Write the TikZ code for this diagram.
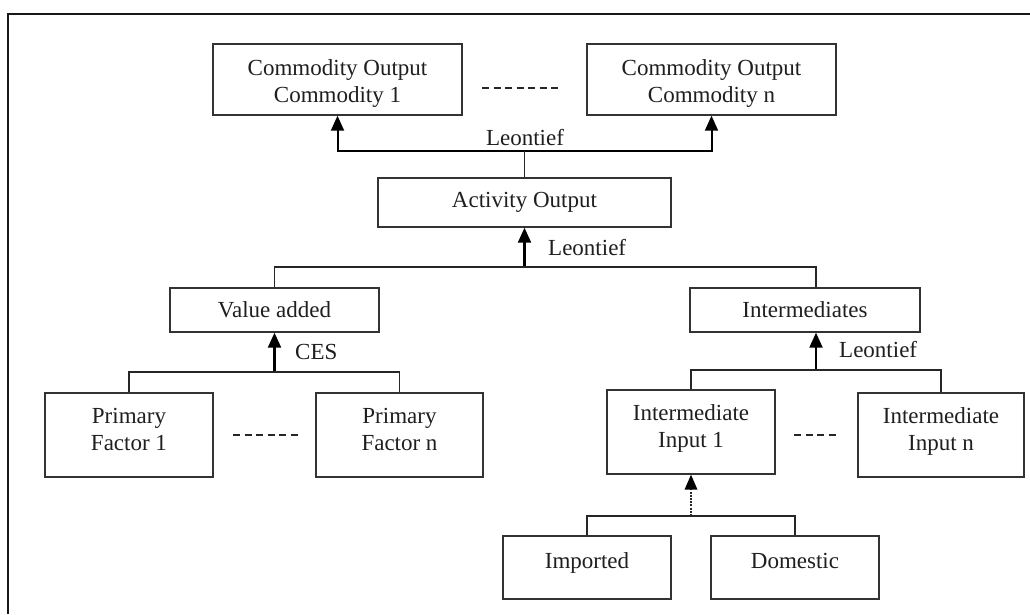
\documentclass[tikz,border=0pt]{standalone}
\usepackage{fontspec}
\setmainfont{Liberation Serif}
\usetikzlibrary{arrows.meta,calc}

% struts that move the text inside a box up or down
\newcommand{\tall}[1]{\rule{0pt}{#1}}
\newcommand{\deep}[1]{\rule[-#1]{0pt}{#1}}

\begin{document}
\begin{tikzpicture}[x=1pt,y=-1pt,
  every node/.style={font=\fontsize{23}{27}\selectfont, text=black!88},
  box/.style={draw=black!80, line width=1.4pt, align=center, inner sep=0pt},
  link/.style={draw=black!85, line width=1.4pt},
  shaft/.style={draw=black, line width=2.2pt},
  tip/.style={-{Triangle[width=13pt,length=15pt]}},
  gap/.style={draw=black!85, line width=1.3pt, dash pattern=on 7pt off 4.5pt},
  lbl/.style={inner sep=0pt}]

\useasboundingbox (0,0) rectangle (1030,614);
\fill[white] (0,0) rectangle (1030,614);

% outer frame (only the top and left edges lie inside the page)
\draw[black!90, line width=2.4pt] (8,614) -- (8,14) -- (1030,14);

% ---- boxes ----
\node[box, minimum width=249pt, minimum height=71pt] (c1) at (337.5,79.5) {\tall{24pt}Commodity Output\\Commodity 1};
\node[box, minimum width=249pt, minimum height=71pt] (cn) at (711.5,79.5) {\tall{24pt}Commodity Output\\Commodity n};
\node[box, minimum width=293pt, minimum height=49pt] (act) at (524.5,202.5) {Activity Output};
\node[box, minimum width=209pt, minimum height=44pt] (va) at (274.5,310) {Value added};
\node[box, minimum width=230pt, minimum height=44pt] (int) at (805,310) {Intermediates};
\node[box, minimum width=168pt, minimum height=84pt] (pf1) at (129,435) {Primary\\Factor 1\deep{11pt}};
\node[box, minimum width=167pt, minimum height=84pt] (pfn) at (399.5,435) {Primary\\Factor n\deep{11pt}};
\node[box, minimum width=168pt, minimum height=84pt] (ii1) at (691,432) {Intermediate\\Input 1\deep{12pt}};
\node[box, minimum width=166pt, minimum height=84pt] (iin) at (941,435) {Intermediate\\Input n\deep{11pt}};
\node[box, minimum width=168pt, minimum height=63pt, text depth=13pt] (imp) at (587,567.5) {Imported};
\node[box, minimum width=168pt, minimum height=63pt, text depth=13pt] (dom) at (795,567.5) {Domestic};

% ---- junction points ----
\coordinate (j1) at (act.north |- 0,151);
\coordinate (j2) at (524,267);
\coordinate (j3) at (va.south |- 0,372);
\coordinate (j4) at (816,370);
\coordinate (j5) at (ii1.south |- 0,516);
\coordinate (intn) at (j4 |- int.north);
\coordinate (ints) at (j4 |- int.south);

% ---- connectors ----
% activity output to the commodity outputs
\draw[line width=2pt, {Triangle[width=13pt,length=15pt]}-{Triangle[width=13pt,length=15pt]}]
  (c1.south) |- (j1) -| (cn.south);
\draw[link] (act.north) -- (j1);
\node[lbl] (l1) at (525,138) {Leontief};

% value added and intermediates to activity output
\draw[shaft, tip] (j2) -- (act.south |- j2) -- (act.south);
\draw[link] (va.north) |- (j2) -| (intn);
\node[lbl, anchor=west] (l2) at (548,248) {Leontief};

% primary factors to value added
\draw[shaft, tip] (j3) -- (va.south);
\draw[link] (pf1.north) |- (j3) -| (pfn.north);
\node[lbl, anchor=west] (l3) at (295,352) {CES};

% intermediate inputs to intermediates
\draw[shaft, tip] (j4) -- (ints);
\draw[link] (ii1.north) |- (j4) -| (iin.north);
\node[lbl, anchor=west] (l4) at (839,350) {Leontief};

% imported and domestic to intermediate input 1
\draw[black!85, line width=1.9pt, dash pattern=on 2pt off 1.2pt] (j5) -- ($(ii1.south)+(0,14)$);
\fill[black] (ii1.south) -- ++(-6.5,15) -- ++(13,0) -- cycle;
\draw[link] (imp.north) |- (j5) -| (dom.north);

% ---- ellipses between sibling boxes ----
\coordinate (d1a) at (482,88);
\coordinate (d1b) at (562,88);
\draw[gap] (d1a) -- (d1b);
\coordinate (d2a) at (233,435);
\coordinate (d2b) at (298,435);
\draw[gap] (d2a) -- (d2b);
\coordinate (d3a) at (794,435);
\coordinate (d3b) at (838,435);
\draw[gap] (d3a) -- (d3b);

\end{tikzpicture}
\end{document}
